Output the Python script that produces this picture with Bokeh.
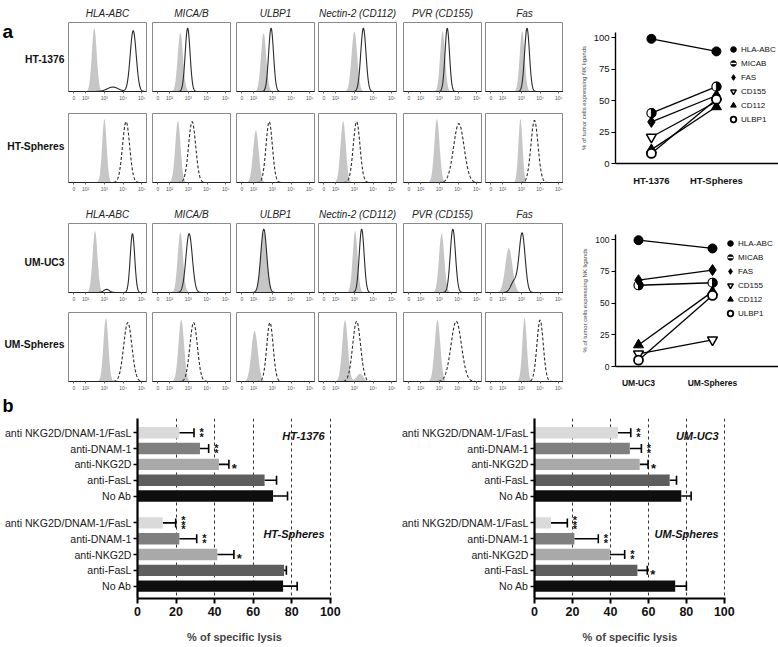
import numpy as np
from bokeh.plotting import figure
from bokeh.layouts import row, column
from bokeh.models import (Range1d, FixedTicker, Legend, LegendItem, Label,
                          Whisker, TeeHead, ColumnDataSource)
from bokeh.core.properties import value
from bokeh.embed import file_html
from bokeh.resources import INLINE

# ------------------------------------------------------------------ data
markers = ["HLA-ABC", "MICA/B", "ULBP1", "Nectin-2 (CD112)", "PVR (CD155)", "Fas"]
row_names = ["HT-1376", "HT-Spheres", "UM-UC3", "UM-Spheres"]
decade_ticks = [1.375, 2, 3, 4, 5]
decade_labels = ["0", "10²", "10³", "10⁴", "10⁵"]

# flow histograms: peak position (log10 fluorescence), spread, relative height
ht1376_iso_peak = [2.46, 2.57, 2.53, 3.00, 3.17, 3.04]
ht1376_iso_sd = [0.13, 0.14, 0.14, 0.15, 0.13, 0.13]
ht1376_iso_h = [1.00, 0.93, 0.92, 0.95, 0.95, 0.95]
ht1376_stain_peak = [4.54, 2.96, 2.93, 3.48, 3.42, 3.30]
ht1376_stain_sd = [0.16, 0.13, 0.13, 0.14, 0.12, 0.13]
ht1376_stain_h = [0.96, 1.00, 1.00, 1.00, 1.00, 1.00]

htsph_iso_peak = [3.00, 2.44, 2.12, 2.40, 2.87, 2.95]
htsph_iso_sd = [0.12, 0.14, 0.15, 0.14, 0.14, 0.11]
htsph_iso_h = [1.00, 0.97, 0.82, 0.97, 1.00, 1.00]
htsph_stain_peak = [4.16, 3.20, 2.83, 3.12, 4.04, 3.70]
htsph_stain_sd = [0.19, 0.19, 0.17, 0.18, 0.28, 0.19]
htsph_stain_h = [0.96, 0.96, 0.96, 0.96, 0.93, 0.98]

umuc3_iso_peak = [2.50, 2.57, 2.54, 3.04, 3.12, 2.33]
umuc3_iso_sd = [0.13, 0.14, 0.17, 0.13, 0.14, 0.19]
umuc3_iso_h = [0.97, 0.95, 0.95, 0.97, 0.93, 0.70]
umuc3_stain_peak = [4.50, 3.04, 2.54, 3.39, 3.72, 3.04]
umuc3_stain_sd = [0.12, 0.17, 0.16, 0.13, 0.14, 0.16]
umuc3_stain_h = [0.93, 0.93, 1.00, 1.00, 1.00, 0.93]

umsph_iso_peak = [3.08, 2.62, 2.05, 2.50, 2.90, 3.17]
umsph_iso_sd = [0.13, 0.15, 0.17, 0.15, 0.15, 0.12]
umsph_iso_h = [1.00, 0.97, 0.80, 0.97, 0.97, 1.00]
umsph_stain_peak = [4.25, 3.28, 2.87, 3.12, 3.90, 4.00]
umsph_stain_sd = [0.22, 0.20, 0.17, 0.21, 0.28, 0.17]
umsph_stain_h = [0.93, 0.93, 0.93, 0.95, 0.95, 0.97]

# minor sub-populations: (row, marker index, curve, peak, spread, height)
shoulders = [
    ("HT-1376", 0, "stain", 3.45, 0.30, 0.07),
    ("UM-UC3", 0, "stain", 3.12, 0.15, 0.05),
    ("UM-UC3", 5, "stain", 2.62, 0.18, 0.18),
    ("UM-Spheres", 3, "iso", 3.30, 0.18, 0.12),
]

# % of tumour cells expressing NK ligands
ligands = ["HLA-ABC", "MICAB", "FAS", "CD155", "CD112", "ULBP1"]
ht_groups = ["HT-1376", "HT-Spheres"]
ht_parental = [99, 40, 33, 21, 11, 8]
ht_spheres = [89, 61, 54, 49, 45, 51]
um_groups = ["UM-UC3", "UM-Spheres"]
um_parental = [99.5, 64, 68, 10, 17, 5]
um_spheres = [93, 66, 76, 21, 59, 56]

# % of specific lysis
treatments = ["anti NKG2D/DNAM-1/FasL", "anti-DNAM-1", "anti-NKG2D", "anti-FasL", "No Ab"]
ht1376_lysis = [21.7, 32.4, 42.2, 65.9, 70.3]
ht1376_err = [7.6, 4.5, 5.2, 6.2, 7.5]
ht1376_sig = ["**", "**", "*", "", ""]
htsph_lysis = [13.1, 21.7, 41.4, 76.0, 75.5]
htsph_err = [6.7, 9.0, 8.6, 1.2, 7.3]
htsph_sig = ["***", "**", "*", "", ""]
umuc3_lysis = [44.0, 50.2, 55.4, 71.2, 77.3]
umuc3_err = [6.7, 6.1, 4.4, 3.6, 5.2]
umuc3_sig = ["**", "**", "*", "", ""]
umsph_lysis = [8.7, 21.0, 39.7, 54.2, 74.1]
umsph_err = [8.6, 12.6, 7.8, 5.2, 5.9]
umsph_sig = ["***", "**", "**", "*", ""]

# ------------------------------------------------------------------ style
FONT = "Liberation Sans"
ISO_GRAY = "#c6c6c6"
BAR_COLORS = ["#dadada", "#7f7f7f", "#a9a9a9", "#5e5e5e", "#0e0e0e"]

HIST_FRAME_W = 78
HIST_FRAME_H = 69
hist_widths = [84, 84, 82, 85, 82, 78]
row_tops = [22, 9, 28, 7]
ROW_BOTTOM = 13
LABEL_W = 68

hist_params = {
    "HT-1376": (ht1376_iso_peak, ht1376_iso_sd, ht1376_iso_h, ht1376_stain_peak, ht1376_stain_sd, ht1376_stain_h),
    "HT-Spheres": (htsph_iso_peak, htsph_iso_sd, htsph_iso_h, htsph_stain_peak, htsph_stain_sd, htsph_stain_h),
    "UM-UC3": (umuc3_iso_peak, umuc3_iso_sd, umuc3_iso_h, umuc3_stain_peak, umuc3_stain_sd, umuc3_stain_h),
    "UM-Spheres": (umsph_iso_peak, umsph_iso_sd, umsph_iso_h, umsph_stain_peak, umsph_stain_sd, umsph_stain_h),
}

X_LO, X_HI = 1.083, 5.25
grid_x = np.linspace(X_LO, X_HI, 320)


def density(components):
    y = np.zeros_like(grid_x)
    for m, s, h in components:
        y += h * np.exp(-0.5 * ((grid_x - m) / s) ** 2)
    return y


def blank(W, H):
    p = figure(width=W, height=H, x_range=Range1d(0, W), y_range=Range1d(0, H),
               x_axis_location=None, y_axis_location=None, min_border=0,
               output_backend="svg", toolbar_location=None)
    p.outline_line_color = None
    p.grid.visible = False
    return p


def make_rowlabel(ri, text, with_a):
    H = row_tops[ri] + HIST_FRAME_H + ROW_BOTTOM
    p = blank(LABEL_W, H)
    p.text(x=[LABEL_W - 4], y=[ROW_BOTTOM + HIST_FRAME_H / 2], text=[text],
           text_align="right", text_baseline="middle", text_font=value(FONT),
           text_font_style="bold", text_font_size="10.3px", text_color="#111")
    if with_a:
        p.text(x=[2], y=[H + 3], text=["a"], text_align="left", text_baseline="top",
               text_font=value(FONT), text_font_style="bold", text_font_size="19px",
               text_color="black")
    return p


def make_hist(ri, ci):
    rname = row_names[ri]
    w = hist_widths[ci]
    top = row_tops[ri]
    title = markers[ci] if ri in (0, 2) else None
    p = figure(width=w, height=top + HIST_FRAME_H + ROW_BOTTOM,
               x_range=Range1d(X_LO, X_HI), y_range=Range1d(0, 1.09),
               y_axis_location=None, output_backend="svg", toolbar_location=None,
               min_border_left=0, min_border_right=w - HIST_FRAME_W,
               min_border_top=top, min_border_bottom=ROW_BOTTOM, title=title)
    if title:
        p.title.align = "center"
        p.title.text_font = FONT
        p.title.text_font_style = "italic"
        p.title.text_font_size = "10px"
        p.title.text_color = "#222"
        p.title.standoff = 8
    p.outline_line_color = "#8a8a8a"
    p.grid.visible = False
    ax = p.xaxis[0]
    ax.ticker = FixedTicker(ticks=decade_ticks)
    ax.major_label_overrides = {t: l for t, l in zip(decade_ticks, decade_labels)}
    ax.major_label_text_font = FONT
    ax.major_label_text_font_size = "5px"
    ax.major_label_text_color = "#555"
    ax.major_label_standoff = 1
    ax.major_tick_out = 2
    ax.major_tick_in = 0
    ax.major_tick_line_color = "#666"
    ax.minor_tick_line_color = None
    ax.axis_line_color = "#222"

    ip, isd, ih, sp, ssd, sh = hist_params[rname]
    iso_c = [(ip[ci], isd[ci], ih[ci])]
    st_c = [(sp[ci], ssd[ci], sh[ci])]
    for rn, mi, kind, m, s, h in shoulders:
        if rn == rname and mi == ci:
            (iso_c if kind == "iso" else st_c).append((m, s, h))
    p.varea(x=grid_x, y1=0, y2=density(iso_c), fill_color=ISO_GRAY, fill_alpha=1)
    dashed = rname.endswith("Spheres")
    p.line(grid_x, density(st_c), line_color="#2a2a2a", line_width=1.1,
           line_dash="3 2" if dashed else "solid")
    return p


# ---------------------------------------------------------- panel a: histograms
hist_rows = []
for ri, rname in enumerate(row_names):
    figs = [make_rowlabel(ri, rname, ri == 0)]
    for ci in range(len(markers)):
        figs.append(make_hist(ri, ci))
    hist_rows.append(row(*figs))
hist_block = column(*hist_rows)

# ---------------------------------------------------------- panel a: line charts
marker_style = {
    "HLA-ABC": dict(marker="circle", size=9, fill_color="black", line_color="black"),
    "MICAB": dict(marker="circle", size=9, fill_color="white", line_color="black", line_width=1.2),
    "FAS": dict(marker="diamond", size=11, fill_color="black", line_color="black"),
    "CD155": dict(marker="inverted_triangle", size=10, fill_color="white", line_color="black", line_width=1.5),
    "CD112": dict(marker="triangle", size=10, fill_color="black", line_color="black"),
    "ULBP1": dict(marker="circle", size=9, fill_color="white", line_color="black", line_width=1.8),
}


def make_line_chart(groups, v0, v1, W, H, bl, bt, bb, xr, leg_loc, fs_tick, fs_cat, fs_leg):
    p = figure(width=W, height=H, x_range=Range1d(*xr), y_range=Range1d(0, 104),
               output_backend="svg", toolbar_location=None,
               min_border_left=bl, min_border_right=0, min_border_top=bt, min_border_bottom=bb)
    p.outline_line_color = None
    p.grid.visible = False
    xs = [0, 1]
    for i in range(len(ligands)):
        p.line(xs, [v0[i], v1[i]], line_color="black", line_width=1.3)
    items = []
    nan = [float("nan")]
    for i, lig in enumerate(ligands):
        r = p.scatter(xs, [v0[i], v1[i]], **marker_style[lig])
        if lig == "MICAB":
            p.wedge(x=xs, y=[v0[i], v1[i]], radius=4.6, radius_units="screen",
                    start_angle=-np.pi / 2, end_angle=np.pi / 2,
                    fill_color="black", line_color="black")
            lg1 = p.scatter(x=nan, y=nan, marker="circle", size=9,
                            fill_color="black", line_color="black")
            lg2 = p.scatter(x=nan, y=nan, marker="dash", angle=np.pi / 2, size=9,
                            line_color="white", line_width=1.4)
            items.append(LegendItem(label=lig, renderers=[lg1, lg2]))
        else:
            items.append(LegendItem(label=lig, renderers=[r]))
    legend = Legend(items=items, location=leg_loc, orientation="vertical",
                    label_text_font=FONT, label_text_font_size=fs_leg,
                    label_text_color="#111",
                    glyph_width=14, glyph_height=14, label_height=14, label_standoff=1,
                    spacing=0, padding=0, margin=0,
                    background_fill_alpha=0, border_line_color=None)
    p.add_layout(legend)

    xa = p.xaxis[0]
    xa.ticker = FixedTicker(ticks=xs)
    xa.major_label_overrides = {0: groups[0], 1: groups[1]}
    xa.major_label_text_font = FONT
    xa.major_label_text_font_style = "bold"
    xa.major_label_text_font_size = fs_cat
    xa.major_label_text_color = "#111"
    xa.major_tick_line_color = None
    xa.minor_tick_line_color = None
    xa.major_label_standoff = 5
    xa.axis_line_width = 1.4

    ya = p.yaxis[0]
    ya.ticker = FixedTicker(ticks=[0, 25, 50, 75, 100])
    ya.major_label_text_font = FONT
    ya.major_label_text_font_size = fs_tick
    ya.major_label_text_color = "#111"
    ya.major_tick_out = 4
    ya.major_tick_in = 0
    ya.minor_tick_line_color = None
    ya.axis_line_width = 1.4
    ya.major_label_standoff = 2
    ya.axis_label = "% of tumor cells expressing NK ligands"
    ya.axis_label_text_font = FONT
    ya.axis_label_text_font_style = "normal"
    ya.axis_label_text_font_size = "6px"
    ya.axis_label_standoff = 4
    return p


line_top = make_line_chart(ht_groups, ht_parental, ht_spheres, 215, 200, 47, 32, 37,
                           (-0.552, 1.955), (111, 37), "9.5px", "9.5px", "8px")
line_bot = make_line_chart(um_groups, um_parental, um_spheres, 215, 194, 52, 34, 28,
                           (-0.311, 1.892), (108, 46), "8.5px", "8.5px", "8px")
panel_a = row(hist_block, column(line_top, line_bot))

# ---------------------------------------------------------- panel b: bar charts
BAR_H = 232


def make_bar(W, bl, br, vals1, err1, sig1, vals2, err2, sig2, name1, name2, y1, y2):
    positions = [float(i) for i in range(5)] + [i + 5.7 for i in range(5)]
    p = figure(width=W, height=BAR_H, x_range=Range1d(0, 100.6), y_range=Range1d(10.48, -0.9),
               output_backend="svg", toolbar_location=None,
               min_border_left=bl, min_border_right=br, min_border_top=4,
               min_border_bottom=BAR_H - 4 - 180)
    p.outline_line_color = None
    p.ygrid.visible = False
    p.xgrid.ticker = FixedTicker(ticks=[20, 40, 60, 80, 100])
    p.xgrid.grid_line_color = "#333"
    p.xgrid.grid_line_dash = "3 3"
    p.xgrid.grid_line_width = 1

    vals = list(vals1) + list(vals2)
    errs = list(err1) + list(err2)
    sigs = list(sig1) + list(sig2)
    hi = [v + e for v, e in zip(vals, errs)]
    src = ColumnDataSource(dict(y=positions, right=vals, hi=hi, color=BAR_COLORS * 2))
    p.hbar(y="y", left=0, right="right", height=0.72, fill_color="color", line_color=None, source=src)
    p.add_layout(Whisker(source=src, base="y", lower="right", upper="hi", dimension="width",
                         line_color="black", line_width=1.6,
                         upper_head=TeeHead(size=9, line_color="black", line_width=1.6),
                         lower_head=None))
    # multi-star marks are set as a tight vertical stack of asterisks
    stk = [(h + 4.0, y + 0.12, "\n".join(s)) for h, y, s in zip(hi, positions, sigs) if len(s) > 1]
    one = [(h + 1.5, y + 0.25, s) for h, y, s in zip(hi, positions, sigs) if len(s) == 1]
    if stk:
        p.text(x=[a[0] for a in stk], y=[a[1] for a in stk], text=[a[2] for a in stk],
               text_align="center", text_baseline="middle", text_line_height=0.38,
               text_font=value(FONT), text_font_style="bold", text_font_size="11px",
               text_color="#111")
    if one:
        p.text(x=[a[0] for a in one], y=[a[1] for a in one], text=[a[2] for a in one],
               text_align="left", text_baseline="middle",
               text_font=value(FONT), text_font_style="bold", text_font_size="13px",
               text_color="#111")
    for nm, yy in ((name1, y1), (name2, y2)):
        p.add_layout(Label(x=97, y=yy, text=nm, text_align="right", text_baseline="middle",
                           text_font=FONT, text_font_style="bold italic",
                           text_font_size="11px", text_color="#111"))

    xa = p.xaxis[0]
    xa.ticker = FixedTicker(ticks=[0, 20, 40, 60, 80, 100])
    xa.major_label_text_font = FONT
    xa.major_label_text_font_style = "bold"
    xa.major_label_text_font_size = "12.5px"
    xa.major_label_text_color = "#111"
    xa.major_tick_out = 5
    xa.major_tick_in = 0
    xa.major_tick_line_width = 2
    xa.minor_tick_line_color = None
    xa.axis_line_width = 2.2
    xa.major_label_standoff = 3
    xa.axis_label = "% of specific lysis"
    xa.axis_label_text_font = FONT
    xa.axis_label_text_font_style = "bold"
    xa.axis_label_text_font_size = "11px"
    xa.axis_label_standoff = 12

    ya = p.yaxis[0]
    ya.ticker = FixedTicker(ticks=positions)
    ya.major_label_overrides = {pos: lab for pos, lab in zip(positions, treatments * 2)}
    ya.major_label_text_font = FONT
    ya.major_label_text_font_size = "10.6px"
    ya.major_label_text_color = "#1a1a1a"
    ya.major_tick_out = 4
    ya.major_tick_in = 0
    ya.major_tick_line_width = 1.5
    ya.minor_tick_line_color = None
    ya.axis_line_width = 2.2
    ya.major_label_standoff = 2
    return p


b_label = blank(778, 20)
b_label.text(x=[2], y=[9], text=["b"], text_align="left", text_baseline="middle",
             text_font=value(FONT), text_font_style="bold", text_font_size="18px",
             text_color="black")

bar_left = make_bar(393, 137, 62, ht1376_lysis, ht1376_err, ht1376_sig,
                    htsph_lysis, htsph_err, htsph_sig, "HT-1376", "HT-Spheres", 0.2, 6.42)
bar_right = make_bar(385, 141, 53, umuc3_lysis, umuc3_err, umuc3_sig,
                     umsph_lysis, umsph_err, umsph_sig, "UM-UC3", "UM-Spheres", 0.2, 6.42)
panel_b = row(bar_left, bar_right)

root = column(panel_a, b_label, panel_b)
open("out.html", "w").write(file_html(root, INLINE))
